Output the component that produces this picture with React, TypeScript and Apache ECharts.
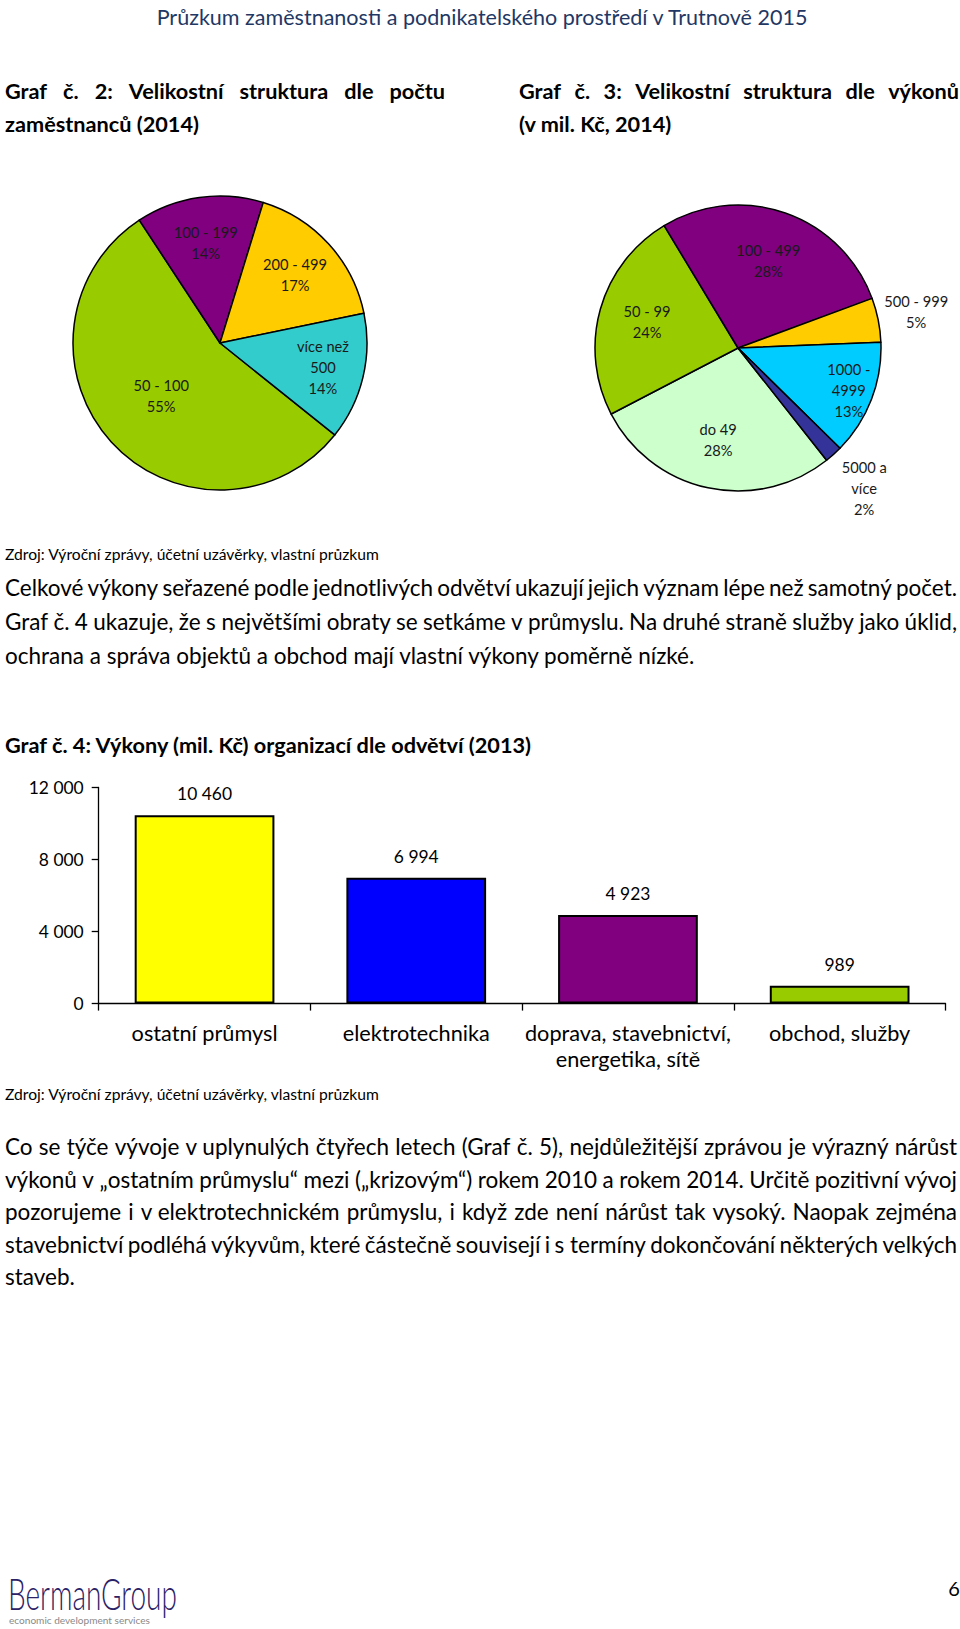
import React, { useEffect, useRef } from 'react';
import * as echarts from 'echarts';

const FONT = 'Lato';

// ---- Graf č. 2: size structure by number of employees (2014), shares in %
const pie2Names = ['50 - 100', '100 - 199', '200 - 499', 'více než\n500'];
const pie2Values = [55, 14, 17, 14];
const pie2Colors = ['#99CC00', '#800080', '#FFCC00', '#33CCCC'];
const pie2LabelR = [0.52, 0.67, 0.67, 0.7];

// ---- Graf č. 3: size structure by output (mil. Kč, 2014), shares in %
const pie3Names = ['do 49', '50 - 99', '100 - 499', '500 - 999', '1000 -\n4999', '5000 a\nvíce'];
const pie3Values = [28, 24, 28, 5, 13, 2];
const pie3Colors = ['#CCFFCC', '#99CC00', '#800080', '#FFCC00', '#00CCFF', '#333399'];
const pie3LabelR = [0.64, 0.64, 0.62, 1.25, 0.81, 1.3];

// ---- Graf č. 4: output (mil. Kč) by sector (2013)
const barCategories = ['ostatní průmysl', 'elektrotechnika', 'doprava, stavebnictví,\nenergetika, sítě', 'obchod, služby'];
const barValues = [10460, 6994, 4923, 989];
const barColors = ['#FFFF00', '#0000FF', '#800080', '#99CC00'];
const yMin = 0;
const yMax = 12000;
const yStep = 4000;

// ---- page texts
const headerText = 'Průzkum zaměstnanosti a podnikatelského prostředí v Trutnově 2015';
const graf2Title = ['Graf č. 2: Velikostní struktura dle počtu', 'zaměstnanců (2014)'];
const graf3Title = ['Graf č. 3: Velikostní struktura dle výkonů', '(v mil. Kč, 2014)'];
const sourceText = 'Zdroj: Výroční zprávy, účetní uzávěrky, vlastní průzkum';
const para1 = [
  'Celkové výkony seřazené podle jednotlivých odvětví ukazují jejich význam lépe než samotný počet.',
  'Graf č. 4 ukazuje, že s\u00A0největšími obraty se setkáme v průmyslu. Na druhé straně služby jako úklid,',
  'ochrana a správa objektů a obchod mají vlastní výkony poměrně nízké.',
];
const graf4Title = 'Graf č. 4: Výkony (mil. Kč) organizací dle odvětví (2013)';
const para2 = [
  'Co se týče vývoje v\u00A0uplynulých čtyřech letech (Graf č. 5), nejdůležitější zprávou je výrazný nárůst',
  'výkonů v „ostatním průmyslu“ mezi („krizovým“) rokem 2010 a rokem 2014. Určitě pozitivní vývoj',
  'pozorujeme i v\u00A0elektrotechnickém průmyslu, i když zde není nárůst tak vysoký. Naopak zejména',
  'stavebnictví podléhá výkyvům, které částečně souvisejí i s\u00A0termíny dokončování některých velkých',
  'staveb.',
];
const logoText = 'BermanGroup';
const logoSub = 'economic development services';
const pageNumber = '6';

const fmtThousands = (v: number) => String(v).replace(/\B(?=(\d{3})+(?!\d))/g, ' ');

let ctx: CanvasRenderingContext2D | null = null;
function textWidth(s: string, size: number, weight: string | number = 'normal', family = FONT) {
  if (!ctx) ctx = document.createElement('canvas').getContext('2d');
  ctx!.font = `${weight} ${size}px ${family}`;
  return ctx!.measureText(s).width;
}
function fitSize(s: string, target: number, weight: string | number = 'normal', family = FONT) {
  return (20 * target) / textWidth(s, 20, weight, family);
}

function textEl(text: string, x: number, y: number, size: number, weight: string | number, fill: string, align = 'left', extra: any = {}) {
  return {
    type: 'text',
    x,
    y,
    silent: true,
    ...extra,
    style: {
      text,
      fontSize: size,
      fontFamily: FONT,
      fontWeight: weight,
      fill,
      align,
      textAlign: align,
      verticalAlign: 'middle',
      textVerticalAlign: 'middle',
    },
  };
}

function lineEls(text: string, x0: number, x1: number, y: number, size: number, weight: string | number, fill: string, justify: boolean, sx = 1) {
  const extra = sx !== 1 ? { scaleX: sx } : {};
  if (!justify) return [textEl(text, x0, y, size, weight, fill, 'left', extra)];
  const words = text.split(' ');
  const widths = words.map((w) => textWidth(w, size, weight) * sx);
  const total = widths.reduce((a, b) => a + b, 0);
  const gap = words.length > 1 ? (x1 - x0 - total) / (words.length - 1) : 0;
  let x = x0;
  return words.map((w, i) => {
    const el = textEl(w, x, y, size, weight, fill, 'left', extra);
    x += widths[i] + gap;
    return el;
  });
}

function pieSeries(names: string[], values: number[], colors: string[], center: number[], r: number, startAngle: number, labelR: number[], fontSize: number) {
  const main = {
    type: 'pie',
    center,
    radius: r,
    startAngle,
    clockwise: true,
    silent: true,
    avoidLabelOverlap: false,
    label: { show: false },
    labelLine: { show: false },
    emphasis: { disabled: true },
    itemStyle: { borderColor: '#000', borderWidth: 1.5 },
    data: names.map((n, i) => ({ name: n, value: values[i], itemStyle: { color: colors[i] } })),
    z: 2,
  };
  const factors = Array.from(new Set(labelR));
  const overlays = factors.map((f) => ({
    type: 'pie',
    center,
    radius: 2 * f * r,
    startAngle,
    clockwise: true,
    silent: true,
    avoidLabelOverlap: false,
    emphasis: { disabled: true },
    itemStyle: { color: 'rgba(0,0,0,0)', borderWidth: 0 },
    labelLine: { show: false },
    label: {
      show: true,
      position: 'inside',
      formatter: (p: any) => `${p.name}\n${Math.round(p.percent)}%`,
      fontFamily: FONT,
      fontSize,
      lineHeight: 21,
      color: '#1a1a1a',
    },
    data: names.map((n, i) => ({ name: n, value: values[i], label: { show: labelR[i] === f } })),
    z: 5,
  }));
  return [main, ...overlays];
}

function buildOption() {
  const bodyRight = 957;
  // font size matched on the unjustified last line, glyphs narrowed so that justified lines fit
  const bodySize = fitSize(para1[2], 722) * 0.98;
  const justified = [...para1.slice(0, -1), ...para2.slice(0, -1)];
  const bodySx = Math.min(
    1,
    ...justified.map((t) => {
      const n = t.split(' ').length;
      const wordsW = t.split(' ').reduce((a, w) => a + textWidth(w, bodySize), 0);
      return (bodyRight - 5 - 4.2 * (n - 1)) / wordsW;
    }),
  );
  const boldSize = Math.min(
    fitSize(graf4Title, 528, 'bold'),
    fitSize(graf2Title[0], 420, 'bold'),
    fitSize(graf3Title[0], 420, 'bold'),
  );
  const srcSize = fitSize(sourceText, 375);
  const headSize = fitSize(headerText, 653);
  const barFont = fitSize('ostatní průmysl', 146);
  const numFont = fitSize('12 000', 55);
  const pieFont = fitSize('200 - 499', 64);

  const g: any[] = [];
  g.push(textEl(headerText, 482, 17, headSize, 'normal', '#1F3864', 'center'));
  g.push(...lineEls(graf2Title[0], 5, 445, 91, boldSize, 'bold', '#000', true));
  g.push(...lineEls(graf2Title[1], 5, 445, 124, boldSize, 'bold', '#000', false));
  g.push(...lineEls(graf3Title[0], 519, 959, 91, boldSize, 'bold', '#000', true));
  g.push(...lineEls(graf3Title[1], 519, 959, 124, boldSize, 'bold', '#000', false));
  g.push(textEl(sourceText, 5, 554, srcSize, 'normal', '#000'));
  const p1y = [587, 621, 655];
  para1.forEach((t, i) =>
    g.push(...lineEls(t, 5, bodyRight, p1y[i], bodySize, 'normal', '#000', i < para1.length - 1, bodySx)),
  );
  g.push(textEl(graf4Title, 5, 745, boldSize, 'bold', '#000'));
  g.push(textEl(sourceText, 5, 1094, srcSize, 'normal', '#000'));
  const p2y = [1146, 1179, 1211, 1244, 1276];
  para2.forEach((t, i) =>
    g.push(...lineEls(t, 5, bodyRight, p2y[i], bodySize, 'normal', '#000', i < para2.length - 1, bodySx)),
  );

  const logoSize = 43;
  const logoScale = 169 / textWidth(logoText, logoSize, 300);
  g.push(textEl(logoText, 8, 1593, logoSize, 300, '#2B2266', 'left', { scaleX: logoScale }));
  const subSize = fitSize(logoSub, 141, 'normal');
  g.push(textEl(logoSub, 9, 1620, subSize, 'normal', '#8a8a8a'));
  g.push(textEl(pageNumber, 954, 1588, 20, 'normal', '#000', 'center'));

  return {
    animation: false,
    backgroundColor: '#ffffff',
    graphic: { elements: g },
    grid: { left: 98.7, top: 787.5, right: 14.5, bottom: 625.4, containLabel: false },
    xAxis: {
      type: 'category',
      data: barCategories,
      axisLine: { show: true, lineStyle: { color: '#000', width: 1.3 } },
      axisTick: { show: true, alignWithLabel: false, length: 7, lineStyle: { color: '#000', width: 1.3 } },
      axisLabel: { interval: 0, margin: 16, fontFamily: FONT, fontSize: barFont, color: '#000', lineHeight: 26 },
      splitLine: { show: false },
    },
    yAxis: {
      type: 'value',
      min: yMin,
      max: yMax,
      interval: yStep,
      axisLine: { show: true, lineStyle: { color: '#000', width: 1.3 } },
      axisTick: { show: true, length: 7, lineStyle: { color: '#000', width: 1.3 } },
      axisLabel: { margin: 15, fontFamily: FONT, fontSize: numFont, color: '#000', formatter: (v: number) => fmtThousands(v) },
      splitLine: { show: false },
    },
    series: [
      {
        type: 'bar',
        data: barValues.map((v, i) => ({ value: v, itemStyle: { color: barColors[i] } })),
        barWidth: '66%',
        itemStyle: { borderColor: '#000', borderWidth: 2 },
        label: {
          show: true,
          position: 'top',
          distance: 13,
          fontFamily: FONT,
          fontSize: numFont,
          color: '#000',
          formatter: (p: any) => fmtThousands(p.value),
        },
        silent: true,
      },
      ...pieSeries(pie2Names, pie2Values, pie2Colors, [220, 343], 147, -38.7, pie2LabelR, pieFont),
      ...pieSeries(pie3Names, pie3Values, pie3Colors, [738, 348], 143, -51.7, pie3LabelR, pieFont),
    ],
  };
}

export default function App() {
  const ref = useRef<HTMLDivElement>(null);
  useEffect(() => {
    const el = ref.current;
    if (!el) return;
    const chart = echarts.init(el, undefined, { renderer: 'svg' });
    chart.setOption(buildOption() as any);
    return () => chart.dispose();
  }, []);
  return (
    <div
      ref={ref}
      style={{ position: 'absolute', left: 0, top: 0, width: 960, height: 1629, background: '#fff' }}
    />
  );
}
